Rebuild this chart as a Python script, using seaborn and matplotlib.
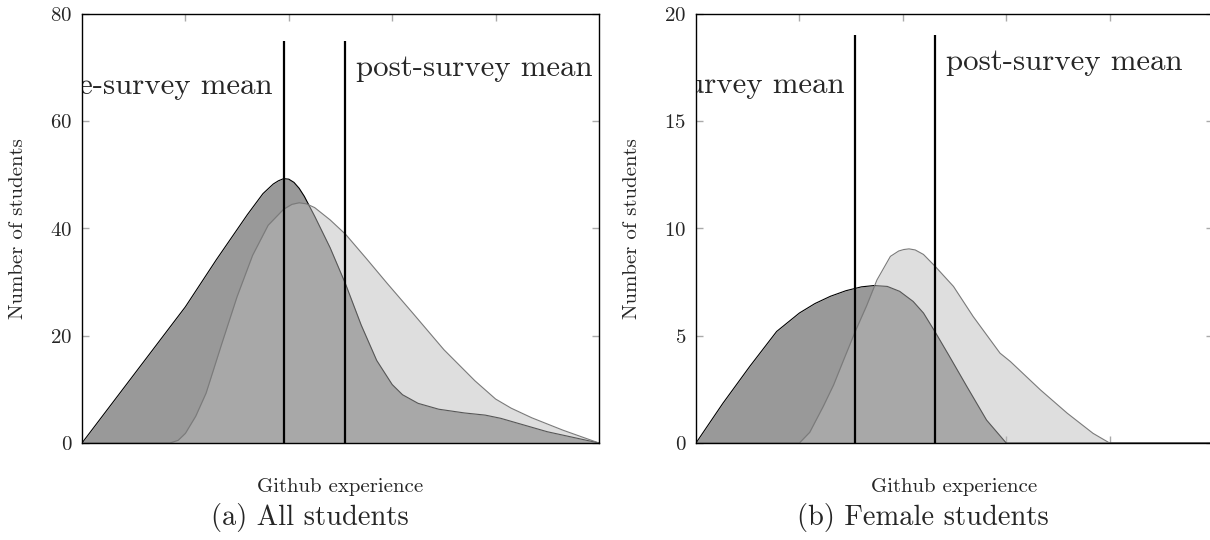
import numpy as np
import matplotlib
matplotlib.use('Agg')
import matplotlib.pyplot as plt
import seaborn as sns

# ---- data ----
# (a) all students
pre_all_x = [0, 0.5, 1.0, 1.15, 1.3, 1.45, 1.6, 1.75, 1.85, 1.9, 1.95, 2.0, 2.05, 2.1,
             2.15, 2.25, 2.4, 2.55, 2.7, 2.85, 3.0, 3.1, 3.25, 3.45, 3.7, 3.9, 4.05,
             4.5, 5.0]
pre_all_y = [0, 12.7, 25.4, 29.8, 34.2, 38.4, 42.6, 46.5, 48.3, 48.9, 49.3, 49.2, 48.6,
             47.5, 46.0, 42.3, 36.4, 29.6, 22.0, 15.4, 10.9, 9.0, 7.4, 6.3, 5.6, 5.2,
             4.6, 2.1, 0]
post_all_x = [0, 0.85, 0.93, 1.0, 1.1, 1.2, 1.35, 1.5, 1.65, 1.8, 1.95, 2.03, 2.1, 2.17,
              2.25, 2.4, 2.55, 2.75, 2.95, 3.2, 3.5, 3.8, 4.0, 4.15, 4.35, 4.65, 5.0]
post_all_y = [0, 0, 0.5, 1.8, 5.0, 9.3, 18.4, 27.3, 35.0, 40.6, 43.6, 44.5, 44.8, 44.6,
              43.9, 41.6, 38.9, 34.4, 29.8, 24.2, 17.4, 11.6, 8.2, 6.5, 4.7, 2.4, 0]
pre_all_mean = 1.95
post_all_mean = 2.547

# (b) female students
pre_fem_x = [0, 0.26, 0.52, 0.78, 1.0, 1.15, 1.3, 1.45, 1.6, 1.72, 1.85, 1.97, 2.1,
             2.2, 2.31, 2.45, 2.62, 2.81, 3.0, 5.0]
pre_fem_y = [0, 1.85, 3.57, 5.2, 6.06, 6.5, 6.84, 7.1, 7.28, 7.34, 7.3, 7.07, 6.6,
             6.06, 5.2, 4.05, 2.63, 1.07, 0, 0]
post_fem_x = [0, 1.0, 1.1, 1.23, 1.33, 1.43, 1.54, 1.65, 1.75, 1.88, 1.96, 2.01, 2.06,
              2.12, 2.2, 2.31, 2.49, 2.68, 2.94, 3.04, 3.33, 3.59, 3.84, 4.0, 5.0]
post_fem_y = [0, 0, 0.5, 1.7, 2.7, 3.9, 5.2, 6.4, 7.6, 8.7, 8.95, 9.02, 9.05,
              9.0, 8.79, 8.25, 7.3, 5.9, 4.19, 3.8, 2.48, 1.39, 0.45, 0, 0]
pre_fem_mean = 1.54
post_fem_mean = 2.314

yticks_all = [0, 20, 40, 60, 80]
yticks_fem = [0, 5, 10, 15, 20]
xticks = [1, 2, 3, 4]

sns.set_style('white')
plt.rcParams['font.family'] = ['cmr10', 'DejaVu Serif']
plt.rcParams['axes.formatter.use_mathtext'] = True
plt.rcParams['mathtext.fontset'] = 'cm'


def draw_panel(ax, pre_x, pre_y, post_x, post_y, pre_mean, post_mean,
               line_top, yticks, txt_pre_y, txt_post_y):
    # pre-survey (dark) below, post-survey (light, see-through) on top
    ax.fill_between(pre_x, pre_y, 0, color='#999999', lw=0, zorder=1)
    sns.lineplot(x=pre_x, y=pre_y, ax=ax, color='black', lw=0.8, zorder=2)
    ax.fill_between(post_x, post_y, 0, color='#b9b9b9', alpha=0.47, lw=0, zorder=3)
    sns.lineplot(x=post_x, y=post_y, ax=ax, color='#7a7a7a', lw=0.8, zorder=4)

    ax.vlines([pre_mean, post_mean], 0, line_top, colors='black', lw=1.6, zorder=5)
    ax.annotate('pre-survey mean', xy=(pre_mean, txt_pre_y), xytext=(-8.0, 0),
                textcoords='offset points', ha='right', va='baseline',
                fontsize=22.2, clip_on=True)
    ax.annotate('post-survey mean', xy=(post_mean, txt_post_y), xytext=(8.0, 0),
                textcoords='offset points', ha='left', va='baseline',
                fontsize=22.2, clip_on=True)

    ax.set_xlim(0, 5)
    ax.set_ylim(yticks[0], yticks[-1])
    ax.set_xticks(xticks)
    ax.set_xticklabels([])
    ax.set_yticks(yticks)
    ax.tick_params(axis='both', direction='in', length=5, width=1, color='#aaaaaa',
                   top=True, right=True, bottom=True, left=True, labelsize=15, pad=7)
    for sp in ax.spines.values():
        sp.set_visible(True)
        sp.set_color('black')
        sp.set_linewidth(1.0)
        sp.set_zorder(6)

    ax.set_xlabel('Github experience', fontsize=15)
    ax.set_ylabel('Number of students', fontsize=15)
    ax.xaxis.label.set_va('center')
    ax.yaxis.label.set_va('center')
    ax.xaxis.set_label_coords(0.5, -0.1026)
    ax.yaxis.set_label_coords(-0.124, 0.5)


fig = plt.figure(figsize=(12.1, 5.4), dpi=100)
ax1 = fig.add_axes([82 / 1210, 97 / 540, 517 / 1210, 429 / 540])
ax2 = fig.add_axes([696 / 1210, 97 / 540, 517 / 1210, 429 / 540])

draw_panel(ax1, pre_all_x, pre_all_y, post_all_x, post_all_y, pre_all_mean, post_all_mean,
           75, yticks_all, 65.0, 68.4)
draw_panel(ax2, pre_fem_x, pre_fem_y, post_fem_x, post_fem_y, pre_fem_mean, post_fem_mean,
           19, yticks_fem, 16.3, 17.4)

fig.text(310 / 1210, 1 - 517 / 540, '(a) All students', ha='center', va='center', fontsize=20.5)
fig.text(923 / 1210, 1 - 517 / 540, '(b) Female students', ha='center', va='center', fontsize=20.5)

fig.savefig('out.png', dpi=100)
